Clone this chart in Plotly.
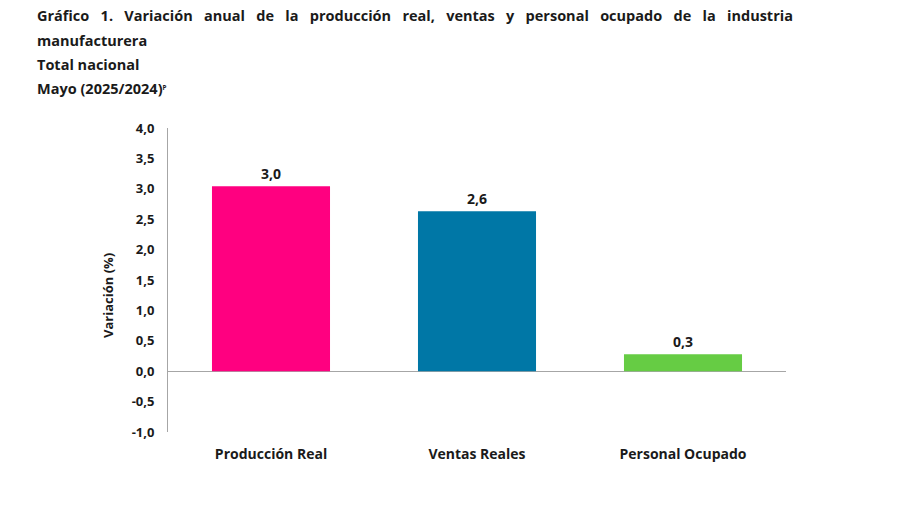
import plotly.graph_objects as go

categories = ["Producción Real", "Ventas Reales", "Personal Ocupado"]
values = [3.04, 2.63, 0.28]
value_labels = ["3,0", "2,6", "0,3"]
colors = ["#FF0080", "#0077A6", "#66CC44"]
tick_vals = [-1.0, -0.5, 0.0, 0.5, 1.0, 1.5, 2.0, 2.5, 3.0, 3.5, 4.0]
tick_text = ["-1,0", "-0,5", "0,0", "0,5", "1,0", "1,5", "2,0", "2,5", "3,0", "3,5", "4,0"]

FONT = "Open Sans"
DARK = "#1a1a1a"

fig = go.Figure()
fig.add_trace(go.Bar(
    x=categories, y=values, marker=dict(color=colors, line=dict(width=0)),
    width=0.573, text=value_labels, textposition="outside", cliponaxis=False,
    textfont=dict(family=FONT, size=14, color=DARK, weight="bold"),
))

nb = "\u00a0"
line1_words = ["Gráfico", "1.", "Variación", "anual", "de", "la", "producción", "real,",
               "ventas", "y", "personal", "ocupado", "de", "la", "industria"]
line1 = (nb * 3).join(line1_words)
title_lines = [line1, "manufacturera", "Total nacional",
               "Mayo (2025/2024)<span style='font-size:9px'><sup>P</sup></span>"]
for i, t in enumerate(title_lines):
    fig.add_annotation(text=t, xref="paper", yref="paper",
                       x=(35 - 168) / 618, y=1 + (128 - (16 + 24 * i)) / 304,
                       xanchor="left", yanchor="middle", showarrow=False,
                       font=dict(family=FONT, size=14.5, color=DARK, weight="bold"))

fig.add_annotation(text="Variación (%)", xref="paper", yref="paper",
                   x=(108 - 168) / 618, y=(432 - 296) / 304, textangle=-90,
                   xanchor="center", yanchor="middle", showarrow=False,
                   font=dict(family=FONT, size=13, color=DARK, weight="bold"))

fig.update_layout(
    width=900, height=507, margin=dict(l=168, r=114, t=128, b=75),
    paper_bgcolor="white", plot_bgcolor="white", showlegend=False,
    bargap=0.427,
)
fig.update_xaxes(range=[-0.5, 2.5], showgrid=False, showline=False, ticks="",
                 zeroline=False, ticklabelstandoff=12,
                 tickfont=dict(family=FONT, size=14, color=DARK, weight="bold"))
fig.update_yaxes(range=[-1, 4], tickvals=tick_vals, ticktext=tick_text,
                 showgrid=False, showline=True, linecolor="#A6A6A6", linewidth=1,
                 zeroline=True, zerolinecolor="#A6A6A6", zerolinewidth=1.2,
                 ticks="", ticklabelstandoff=10,
                 tickfont=dict(family=FONT, size=13, color=DARK, weight="bold"))

fig.write_html("out.html")
